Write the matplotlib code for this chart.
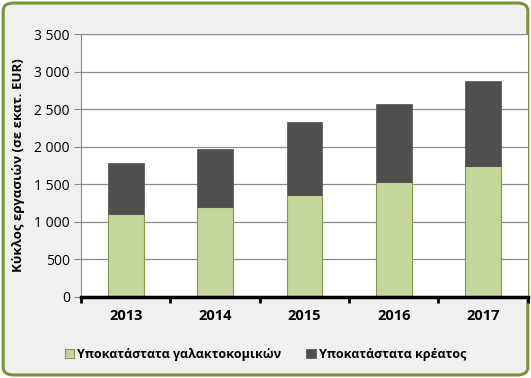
import matplotlib.pyplot as plt
from matplotlib.patches import FancyBboxPatch
from matplotlib.ticker import FuncFormatter, FixedLocator
import numpy as np

plt.rcParams['font.family'] = ['Open Sans', 'DejaVu Sans']

years = ['2013', '2014', '2015', '2016', '2017']
dairy = [1100, 1200, 1360, 1530, 1740]
meat_total = [1790, 1970, 2330, 2570, 2880]
meat = [t - d for t, d in zip(meat_total, dairy)]

fig = plt.figure(figsize=(5.31, 3.78), dpi=100)
fig.patch.set_facecolor('white')

# rounded green frame around the whole chart
frame = FancyBboxPatch((0.006, 0.008), 0.988, 0.984, boxstyle='round,pad=0,rounding_size=0.02',
                       transform=fig.transFigure, facecolor='#f0f0f0', edgecolor='#77933c',
                       linewidth=2.2, zorder=-10)
fig.patches.append(frame)

ax = fig.add_axes([0.1525, 0.2143, 0.8415, 0.6957])
ax.set_facecolor('white')

x = np.arange(len(years))
ax.bar(x, dairy, width=0.4, color='#c3d69b', edgecolor='#7f9a4a', linewidth=0.8,
       label='Υποκατάστατα γαλακτοκομικών', zorder=3)
ax.bar(x, meat, width=0.4, bottom=dairy, color='#4f4f4f', edgecolor='#4f4f4f', linewidth=0.5,
       label='Υποκατάστατα κρέατος', zorder=3)

ax.set_xlim(-0.5, 4.5)
ax.set_ylim(0, 3500)
ax.set_yticks(np.arange(0, 3501, 500))
ax.yaxis.set_major_formatter(FuncFormatter(lambda v, p: f'{int(v):,}'.replace(',', ' ')))
ax.yaxis.grid(True, color='#8c8c8c', linewidth=0.9, zorder=0)

ax.set_xticks(x)
ax.set_xticklabels(years, fontweight='bold', fontsize=10.5)
ax.tick_params(axis='x', length=0, pad=9)
ax.xaxis.set_minor_locator(FixedLocator(np.arange(-0.5, 4.6, 1)))
ax.tick_params(axis='x', which='minor', length=4, width=2, color='black', direction='out')
ax.tick_params(axis='y', length=5, color='#8c8c8c', labelsize=10, pad=3)

for s in ['top', 'right']:
    ax.spines[s].set_visible(False)
ax.spines['left'].set_color('#8c8c8c')
ax.spines['bottom'].set_color('black')
ax.spines['bottom'].set_linewidth(2.5)
ax.spines['bottom'].set_zorder(5)

ax.set_ylabel('Κύκλος εργασιών (σε εκατ. EUR)', fontweight='bold', fontsize=9.5, labelpad=7)

leg = fig.legend(loc='center', bbox_to_anchor=(0.5, 0.062), ncol=2, frameon=False,
                 prop={'weight': 'bold', 'size': 9}, handlelength=0.75, handleheight=0.75,
                 handletextpad=0.25, columnspacing=2.0)

fig.savefig('out.png', dpi=100, facecolor=fig.get_facecolor())
